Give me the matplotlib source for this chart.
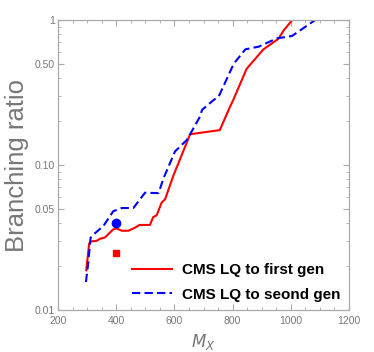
import matplotlib
matplotlib.use("Agg")
import matplotlib.pyplot as plt
from matplotlib.ticker import FixedLocator, NullFormatter

plt.rcParams['font.family'] = ['Liberation Sans', 'DejaVu Sans']

# Data
red_m = [297, 307, 313, 333, 344, 361, 390, 402, 419, 442, 465, 480, 516, 527, 539, 556, 568, 596,
         654, 756, 791, 802, 848, 905, 935, 957, 976, 1005]
red_br = [0.0188, 0.0287, 0.0297, 0.0300, 0.031, 0.0316, 0.036, 0.0365, 0.0352, 0.0352, 0.037, 0.0386,
          0.0386, 0.0437, 0.045, 0.055, 0.058, 0.084,
          0.163, 0.174, 0.252, 0.28, 0.46, 0.625, 0.69, 0.74, 0.85, 1.0]

blue_m = [296, 304, 312, 324, 356, 390, 419, 459, 499, 545, 551, 562, 602, 643, 654, 688, 695, 734,
          752, 804, 844, 890, 952, 1004, 1084]
blue_br = [0.0156, 0.0212, 0.0315, 0.0334, 0.038, 0.048, 0.0505, 0.0505, 0.0644, 0.064, 0.069, 0.0805,
           0.124, 0.149, 0.163, 0.216, 0.24, 0.28, 0.296, 0.50, 0.628, 0.655, 0.747, 0.776, 1.0]

pt_m = [400]
pt_blue = [0.0396]
pt_red = [0.0248]

legend_labels = ["CMS LQ to first gen", "CMS LQ to seond gen"]
y_major = [0.01, 0.05, 0.10, 0.50, 1]
y_major_labels = ["0.01", "0.05", "0.10", "0.50", "1"]
x_major = [200, 400, 600, 800, 1000, 1200]

fig = plt.figure(figsize=(3.74, 3.52), dpi=100)
ax = fig.add_axes([58/374, 1 - 310/352, (349-58)/374, (310-20)/352])

red = '#ff0000'
blue = '#0000ff'
l1, = ax.plot(red_m, red_br, color=red, lw=1.5, solid_joinstyle='round')
l2, = ax.plot(blue_m, blue_br, color=blue, lw=1.5, dashes=(4, 2))
ax.plot(pt_m, pt_blue, 'o', color=blue, ms=6)
ax.plot(pt_m, pt_red, 's', color=red, ms=4.5)

ax.set_yscale('log')
ax.set_xlim(200, 1200)
ax.set_ylim(0.01, 1)

ax.yaxis.set_major_locator(FixedLocator(y_major))
ax.set_yticklabels(y_major_labels)
minors = [v * d for d in (0.01, 0.1) for v in range(2, 10)]
minors = [m for m in minors if m not in (0.05, 0.5)]
ax.yaxis.set_minor_locator(FixedLocator(minors))
ax.yaxis.set_minor_formatter(NullFormatter())
ax.xaxis.set_major_locator(FixedLocator(x_major))
ax.xaxis.set_minor_locator(FixedLocator(list(range(250, 1200, 50))))

tgray = '#777777'
for s in ax.spines.values():
    s.set_color('#aaaaaa')
    s.set_linewidth(0.9)
ax.tick_params(which='both', direction='in', top=True, right=True, color='#aaaaaa',
               labelcolor=tgray, labelsize=7.5)
ax.tick_params(axis='y', pad=2)
ax.tick_params(axis='x', pad=4)
ax.tick_params(which='major', length=4, width=0.8)
ax.tick_params(which='minor', length=2.5, width=0.6)

ax.set_ylabel("Branching ratio", fontsize=18.5, color=tgray, labelpad=4)
ax.set_xlabel("$M_X$", fontsize=12, color=tgray, labelpad=5)

leg = ax.legend([l1, l2], legend_labels, loc='lower right', bbox_to_anchor=(1.0, 0.0),
                frameon=False, prop={'weight': 'bold', 'size': 11}, handlelength=2.6,
                handletextpad=0.65, labelspacing=0.7, borderaxespad=0.15)

fig.savefig("out.png", dpi=100)
